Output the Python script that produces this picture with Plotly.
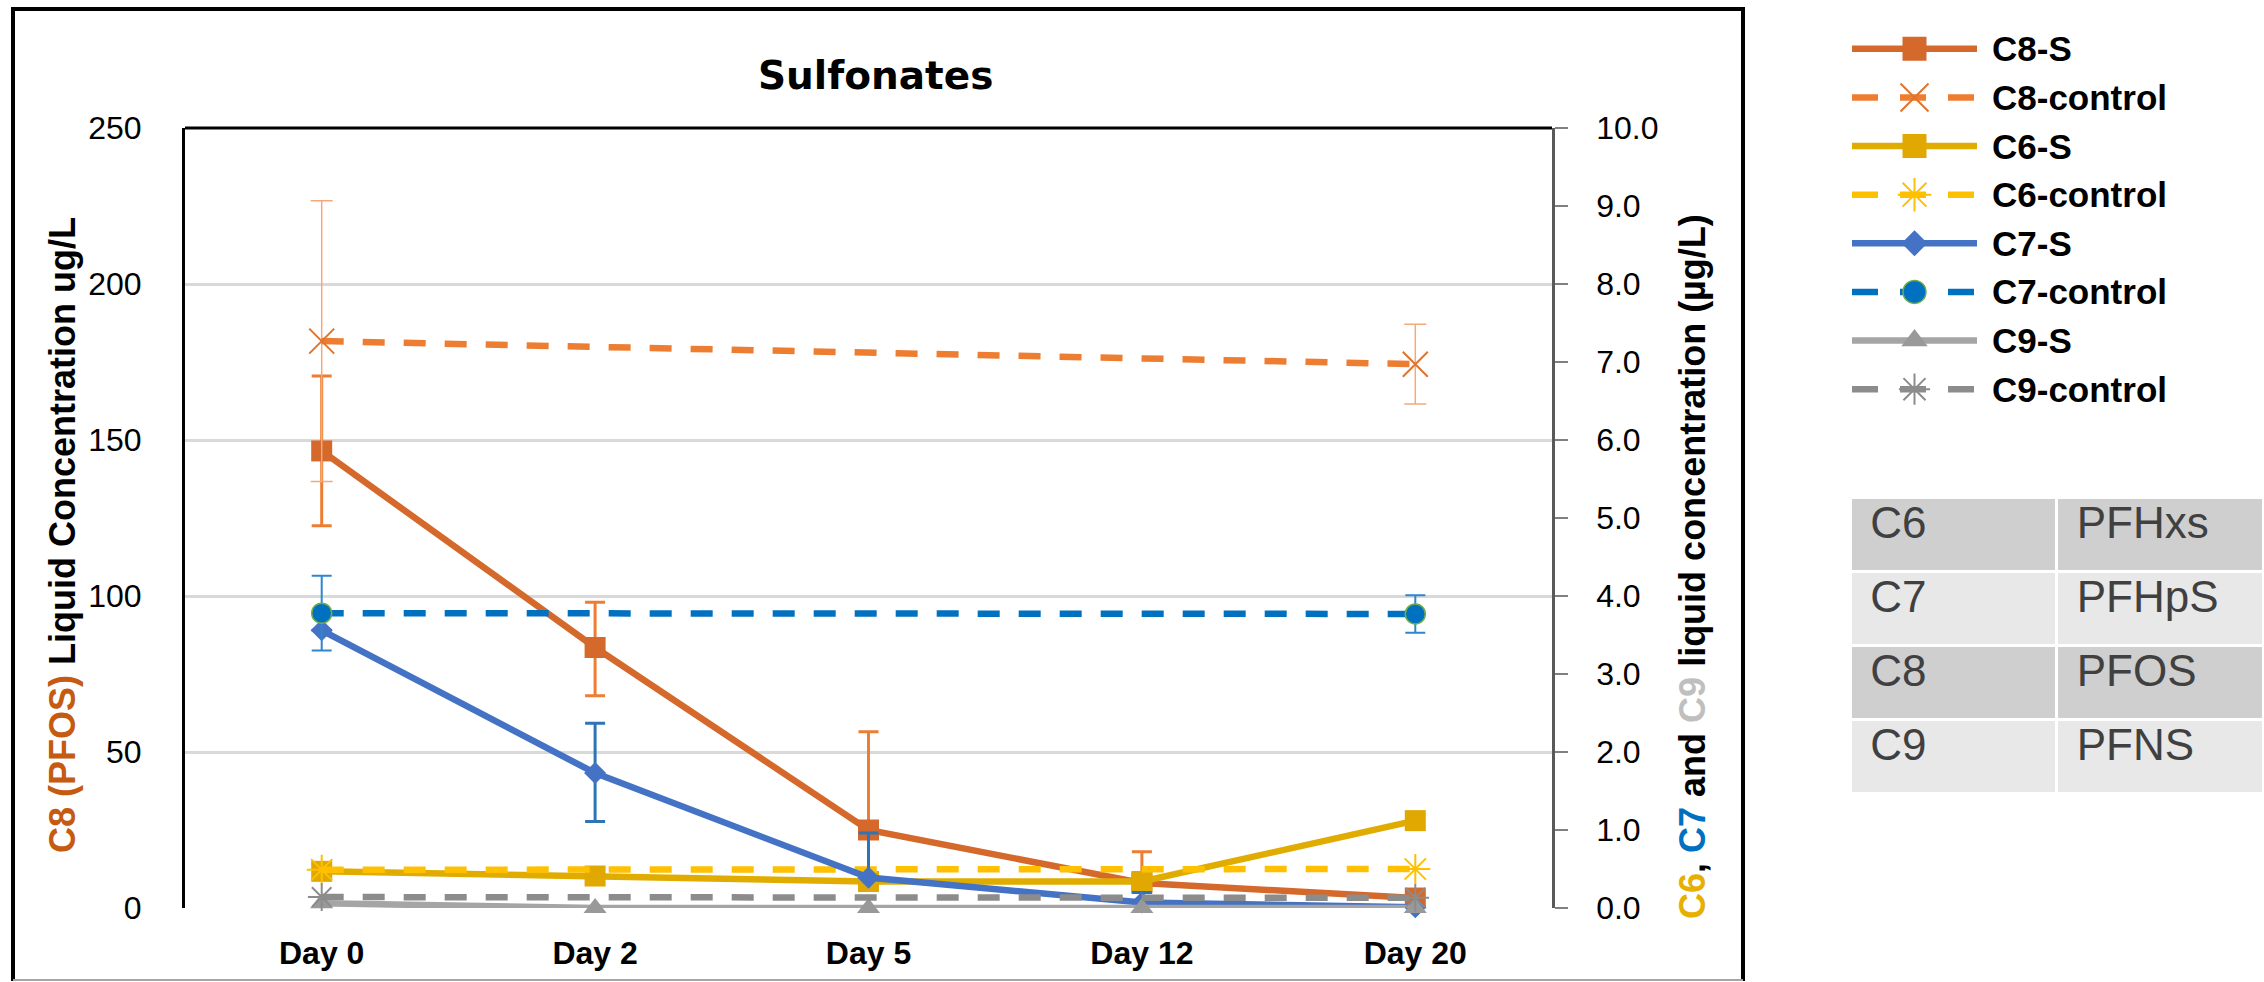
import plotly.graph_objects as go

# ---- data -------------------------------------------------------------
days = ["Day 0", "Day 2", "Day 5", "Day 12", "Day 20"]

# C8 (PFOS) on the left axis, ug/L
c8_s = [146.5, 83.5, 25.0, 8.0, 3.2]
c8_s_err_plus = [24.0, 14.5, 31.5, 10.0, 0.0]
c8_s_err_minus = [24.0, 15.5, 0.0, 0.0, 0.0]
c8_control = [181.7, None, None, None, 174.3]
c8_control_err = [45.0, 0, 0, 0, 12.8]

# C6, C7, C9 on the right axis, ug/L
c6_s = [0.47, 0.41, 0.34, 0.34, 1.12]
c6_control = [0.49, None, None, None, 0.50]
c7_s = [3.56, 1.73, 0.39, 0.07, 0.01]
c7_s_err_plus = [0.0, 0.64, 0.57, 0.13, 0.0]
c7_s_err_minus = [0.0, 0.62, 0.0, 0.0, 0.0]
c7_control = [3.78, None, None, None, 3.77]
c7_control_err = [0.48, 0, 0, 0, 0.24]
c9_s = [0.06, 0.0, 0.0, 0.0, 0.0]
c9_control = [0.14, None, None, None, 0.13]

series_names = ["C8-S", "C8-control", "C6-S", "C6-control",
                "C7-S", "C7-control", "C9-S", "C9-control"]

table_codes = ["C6", "C7", "C8", "C9"]
table_names = ["PFHxs", "PFHpS", "PFOS", "PFNS"]

left_ticks = [0, 50, 100, 150, 200, 250]
right_ticks = [0, 1, 2, 3, 4, 5, 6, 7, 8, 9, 10]

# ---- styling ----------------------------------------------------------
W, H = 2264, 982
DASH = "22px,19px"
LW = 6.5

styles = {
    "C8-S": dict(color="#D5692B", dash="solid", symbol="square", size=21,
                 mcolor="#D5692B", mline=None),
    "C8-control": dict(color="#ED7D31", dash=DASH, symbol="x-thin", size=25,
                       mcolor="#E0742C", mline=("#E0742C", 2)),
    "C6-S": dict(color="#E1AC00", dash="solid", symbol="square", size=21,
                 mcolor="#E0A800", mline=None),
    "C6-control": dict(color="#FFC000", dash=DASH, symbol="asterisk", size=25,
                       mcolor="#FFC000", mline=("#FFC000", 2)),
    "C7-S": dict(color="#4472C4", dash="solid", symbol="diamond", size=17,
                 mcolor="#4472C4", mline=None),
    "C7-control": dict(color="#0070C0", dash=DASH, symbol="circle", size=20,
                       mcolor="#0070C0", mline=("#70AD47", 1.5)),
    "C9-S": dict(color="#A5A5A5", dash="solid", symbol="triangle-up", size=20,
                 mcolor="#999999", mline=None),
    "C9-control": dict(color="#8C8C8C", dash=DASH, symbol="asterisk", size=23,
                       mcolor="#8C8C8C", mline=("#8C8C8C", 2)),
}


def marker_of(name, size=None):
    s = styles[name]
    m = dict(symbol=s["symbol"], size=size if size is not None else s["size"],
             color=s["mcolor"], opacity=1)
    if s["mline"]:
        m["line"] = dict(color=s["mline"][0], width=s["mline"][1])
    else:
        m["line"] = dict(width=0)
    return m


def px_x(v):
    return v / W


def px_y(v):
    return 1 - v / H


fig = go.Figure()


def add_series(name, values, axis, err=None):
    s = styles[name]
    tr = go.Scatter(
        x=days, y=values, name=name, mode="lines+markers",
        line=dict(color=s["color"], width=LW, dash=s["dash"]),
        marker=marker_of(name), connectgaps=True, showlegend=False,
        yaxis=axis, xaxis="x", cliponaxis=False,
    )
    if err is not None:
        tr.error_y = err
    fig.add_trace(tr)


add_series("C8-S", c8_s, "y",
           dict(type="data", symmetric=False, array=c8_s_err_plus,
                arrayminus=c8_s_err_minus, color="#ED7D31", thickness=3, width=10))
add_series("C8-control", c8_control, "y",
           dict(type="data", array=c8_control_err, color="#F4A97A",
                thickness=1.5, width=11))
add_series("C6-S", c6_s, "y2")
add_series("C6-control", c6_control, "y2")
add_series("C7-S", c7_s, "y2",
           dict(type="data", symmetric=False, array=c7_s_err_plus,
                arrayminus=c7_s_err_minus, color="#2E75B6", thickness=3, width=10))
add_series("C7-control", c7_control, "y2",
           dict(type="data", array=c7_control_err, color="#2E86D0",
                thickness=2, width=10))
add_series("C9-S", c9_s, "y2")
add_series("C9-control", c9_control, "y2")

# ---- custom legend drawn on its own small axis pair ------------------
for i, name in enumerate(series_names):
    s = styles[name]
    fig.add_trace(go.Scatter(
        x=[0, 1], y=[i, i], mode="lines",
        line=dict(color=s["color"], width=6.5,
                  dash="26px,22px" if s["dash"] != "solid" else "solid"),
        xaxis="x3", yaxis="y3", showlegend=False, hoverinfo="skip",
    ))
    fig.add_trace(go.Scatter(
        x=[0.5], y=[i], mode="markers",
        marker=marker_of(name, size=s["size"] + 3),
        xaxis="x3", yaxis="y3", showlegend=False, hoverinfo="skip",
    ))
    fig.add_annotation(x=px_x(1990), xref="paper", xanchor="left",
                       y=i, yref="y3", yanchor="middle", text=name,
                       showarrow=False,
                       font=dict(family="Liberation Sans", size=35,
                                 color="black", weight="bold"))

# ---- compound name table ---------------------------------------------
fig.add_trace(go.Table(
    domain=dict(x=[px_x(1850), 1.0], y=[px_y(797), px_y(497)]),
    columnwidth=[1, 1],
    header=dict(values=["\u00a0" + table_codes[0], "\u00a0" + table_names[0]],
                fill_color="#CFCFCF", line=dict(color="white", width=3),
                align="left", height=74,
                font=dict(family="Liberation Sans", size=44, color="#404040")),
    cells=dict(values=[["\u00a0" + c for c in table_codes[1:]],
                       ["\u00a0" + n for n in table_names[1:]]],
               fill_color=[["#E8E8E8", "#CFCFCF", "#E8E8E8"]] * 2,
               line=dict(color="white", width=3),
               align="left", height=74,
               font=dict(family="Liberation Sans", size=44, color="#404040")),
))

tick_font = dict(family="Liberation Sans", size=32, color="black")

fig.update_layout(
    width=W, height=H, autosize=False,
    margin=dict(l=0, r=0, t=0, b=0, pad=0),
    paper_bgcolor="white", plot_bgcolor="white",
    showlegend=False,
    xaxis=dict(domain=[px_x(185), px_x(1552)], type="category",
               categoryorder="array", categoryarray=days,
               range=[-0.5, 4.5], showgrid=False, showline=False,
               zeroline=False, ticks="", anchor="y", automargin=False,
               tickfont=dict(family="Liberation Sans", size=32,
                             color="black", weight="bold"),
               ticklabelstandoff=23),
    yaxis=dict(domain=[px_y(908), px_y(128)], range=[0, 250],
               tickvals=left_ticks, showgrid=True, gridcolor="#D9D9D9",
               gridwidth=3, zeroline=False, showline=True,
               linecolor="black", linewidth=3, ticks="", automargin=False,
               tickfont=tick_font, ticklabelstandoff=34, anchor="x"),
    yaxis2=dict(overlaying="y", side="right", range=[0, 10],
                tickvals=right_ticks, tickformat=".1f", showgrid=False,
                zeroline=False, showline=True, linecolor="#595959",
                linewidth=2.5, ticks="outside", ticklen=13,
                tickcolor="#808080", tickwidth=2, tickfont=tick_font,
                ticklabelstandoff=22, anchor="x", automargin=False),
    xaxis3=dict(domain=[px_x(1852), px_x(1977)], range=[0, 1],
                visible=False, anchor="y3", fixedrange=True, automargin=False),
    yaxis3=dict(domain=[px_y(413.5), px_y(24.5)], range=[7.5, -0.5],
                visible=False, anchor="x3", fixedrange=True, automargin=False),
)

# plot-area top edge
fig.add_shape(type="line", xref="x domain", yref="y domain",
              x0=0, x1=1, y0=1, y1=1, line=dict(color="black", width=3),
              layer="above")

# chart frame
frame = dict(color="black", width=4)
fig.add_shape(type="line", xref="paper", yref="paper",
              x0=px_x(13), x1=px_x(13), y0=px_y(8), y1=px_y(981), line=frame)
fig.add_shape(type="line", xref="paper", yref="paper",
              x0=px_x(11), x1=px_x(1745), y0=px_y(9), y1=px_y(9), line=frame)
fig.add_shape(type="line", xref="paper", yref="paper",
              x0=px_x(1743), x1=px_x(1743), y0=px_y(8), y1=px_y(981), line=frame)
fig.add_shape(type="line", xref="paper", yref="paper",
              x0=px_x(13), x1=px_x(1743), y0=px_y(980), y1=px_y(980),
              line=dict(color="#A6A6A6", width=2))

# chart title
fig.add_annotation(x=px_x(876), y=px_y(75), xref="paper", yref="paper",
                   xanchor="center", yanchor="middle", text="Sulfonates",
                   showarrow=False,
                   font=dict(family="DejaVu Sans", size=39, color="black",
                             weight="bold"))

# axis titles
fig.add_annotation(
    x=px_x(62), y=px_y(535), xref="paper", yref="paper", textangle=-90,
    xanchor="center", yanchor="middle", showarrow=False,
    text="<span style='color:#C55A11'>C8 (PFOS)</span> Liquid Concentration ug/L",
    font=dict(family="Liberation Sans", size=36, color="black", weight="bold"))
fig.add_annotation(
    x=px_x(1692), y=px_y(567), xref="paper", yref="paper", textangle=-90,
    xanchor="center", yanchor="middle", showarrow=False,
    text=("<span style='color:#E6B000'>C6</span>, "
          "<span style='color:#0070C0'>C7</span> and "
          "<span style='color:#BFBFBF'>C9</span> liquid concentration (µg/L)"),
    font=dict(family="Liberation Sans", size=36, color="black", weight="bold"))

fig.write_html("out.html")
